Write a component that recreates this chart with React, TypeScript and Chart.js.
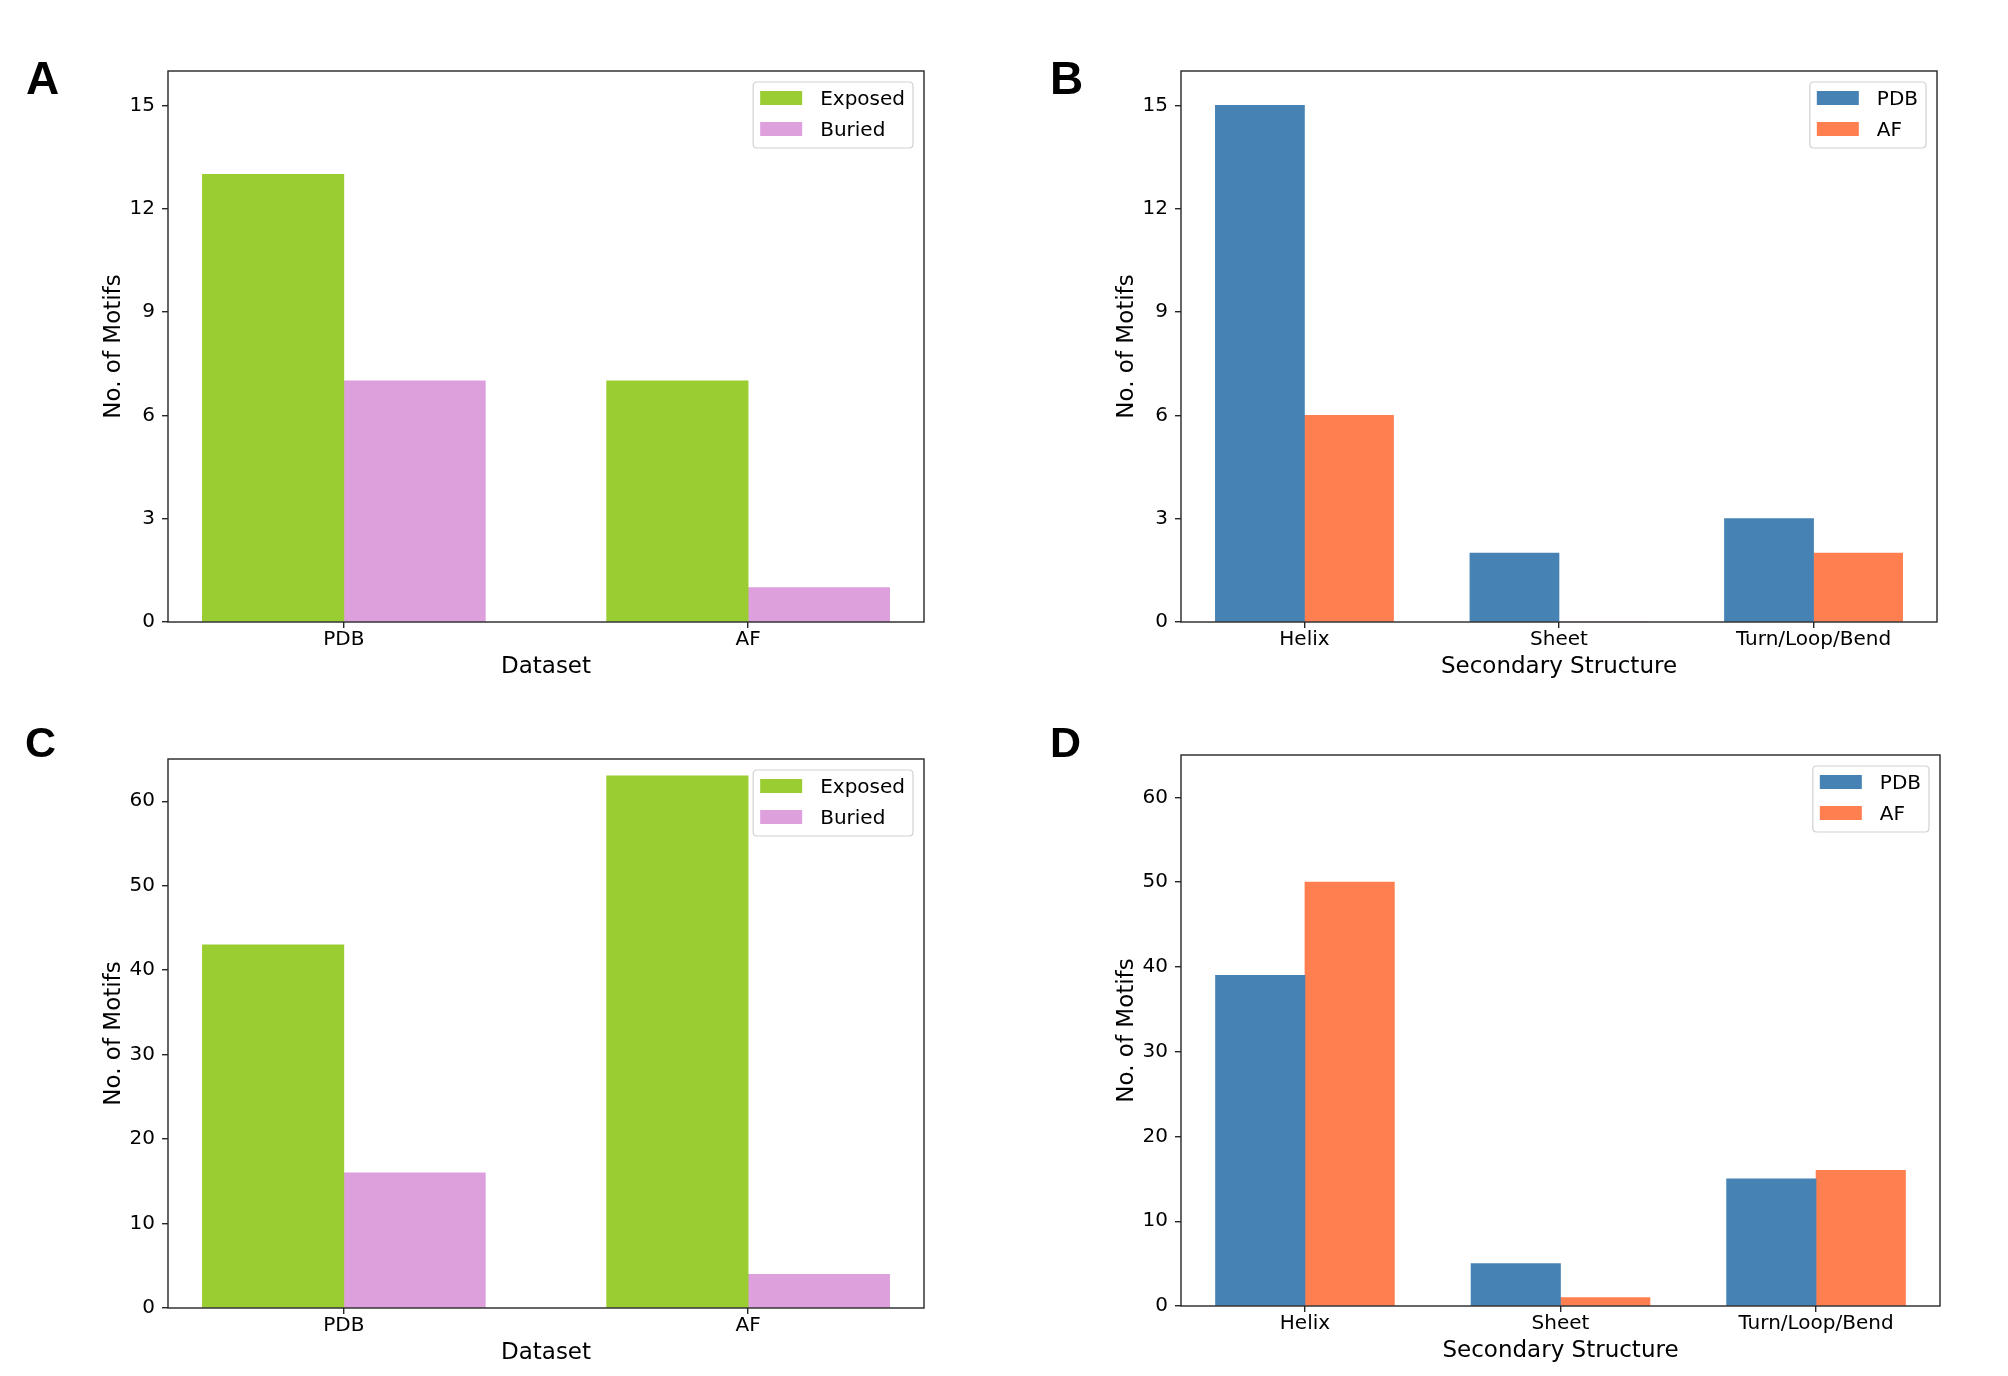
import React, { useEffect, useRef } from "react";
import { Chart, registerables } from "chart.js";

Chart.register(...registerables);

// ---------- data ----------
const DATASET_CATEGORIES = ["PDB", "AF"];
const STRUCTURE_CATEGORIES = ["Helix", "Sheet", "Turn/Loop/Bend"];

const A_EXPOSED = [13, 7];
const A_BURIED = [7, 1];

const B_PDB = [15, 2, 3];
const B_AF = [6, 0, 2];

const C_EXPOSED = [43, 63];
const C_BURIED = [16, 4];

const D_PDB = [39, 5, 15];
const D_AF = [50, 1, 16];

const Y_TICKS_SMALL = [0, 3, 6, 9, 12, 15];
const Y_TICKS_LARGE = [0, 10, 20, 30, 40, 50, 60];
const Y_MAX_SMALL = 16;
const Y_MAX_LARGE = 65;

const Y_TITLE = "No. of Motifs";
const X_TITLE_DATASET = "Dataset";
const X_TITLE_STRUCTURE = "Secondary Structure";

// ---------- styles ----------
const GREEN = "#9ACD32";
const PLUM = "#DDA0DD";
const STEEL = "#4682B4";
const CORAL = "#FF7F50";
const BAR_WIDTH = 0.35;
const FONT = "'DejaVu Sans', Verdana, sans-serif";
const SPINE = "#262626";

type Series = { label: string; values: number[]; color: string };
type Panel = {
  letter: string;
  letterX: number;
  letterY: number;
  letterSize: number;
  left: number;
  top: number;
  width: number;
  height: number;
  frame: { l: number; r: number; t: number; b: number };
  categories: string[];
  series: Series[];
  yMax: number;
  yTicks: number[];
  xTitle: string;
};

const PANELS: Panel[] = [
  {
    letter: "A", letterX: 26, letterY: 94, letterSize: 46,
    left: 0, top: 0, width: 1004, height: 688,
    frame: { l: 168, r: 924, t: 71, b: 622 },
    categories: DATASET_CATEGORIES,
    series: [
      { label: "Exposed", values: A_EXPOSED, color: GREEN },
      { label: "Buried", values: A_BURIED, color: PLUM },
    ],
    yMax: Y_MAX_SMALL, yTicks: Y_TICKS_SMALL, xTitle: X_TITLE_DATASET,
  },
  {
    letter: "B", letterX: 46, letterY: 94, letterSize: 46,
    left: 1004, top: 0, width: 1004, height: 688,
    frame: { l: 177, r: 933, t: 71, b: 622 },
    categories: STRUCTURE_CATEGORIES,
    series: [
      { label: "PDB", values: B_PDB, color: STEEL },
      { label: "AF", values: B_AF, color: CORAL },
    ],
    yMax: Y_MAX_SMALL, yTicks: Y_TICKS_SMALL, xTitle: X_TITLE_STRUCTURE,
  },
  {
    letter: "C", letterX: 25, letterY: 69, letterSize: 43,
    left: 0, top: 688, width: 1004, height: 688,
    frame: { l: 168, r: 924, t: 71, b: 620 },
    categories: DATASET_CATEGORIES,
    series: [
      { label: "Exposed", values: C_EXPOSED, color: GREEN },
      { label: "Buried", values: C_BURIED, color: PLUM },
    ],
    yMax: Y_MAX_LARGE, yTicks: Y_TICKS_LARGE, xTitle: X_TITLE_DATASET,
  },
  {
    letter: "D", letterX: 46, letterY: 69, letterSize: 43,
    left: 1004, top: 688, width: 1004, height: 688,
    frame: { l: 177, r: 936, t: 67, b: 618 },
    categories: STRUCTURE_CATEGORIES,
    series: [
      { label: "PDB", values: D_PDB, color: STEEL },
      { label: "AF", values: D_AF, color: CORAL },
    ],
    yMax: Y_MAX_LARGE, yTicks: Y_TICKS_LARGE, xTitle: X_TITLE_STRUCTURE,
  },
];

function roundRect(ctx: CanvasRenderingContext2D, x: number, y: number, w: number, h: number, r: number) {
  ctx.beginPath();
  ctx.moveTo(x + r, y);
  ctx.lineTo(x + w - r, y);
  ctx.quadraticCurveTo(x + w, y, x + w, y + r);
  ctx.lineTo(x + w, y + h - r);
  ctx.quadraticCurveTo(x + w, y + h, x + w - r, y + h);
  ctx.lineTo(x + r, y + h);
  ctx.quadraticCurveTo(x, y + h, x, y + h - r);
  ctx.lineTo(x, y + r);
  ctx.quadraticCurveTo(x, y, x + r, y);
  ctx.closePath();
}

function makeDecorPlugin(panel: Panel) {
  return {
    id: "decor" + panel.letter,
    afterDatasetsDraw(chart: any) {
      const ctx: CanvasRenderingContext2D = chart.ctx;
      const a = chart.chartArea;
      ctx.save();
      // frame (all four spines)
      ctx.strokeStyle = SPINE;
      ctx.lineWidth = 1.4;
      ctx.strokeRect(a.left, a.top, a.right - a.left, a.bottom - a.top);

      // legend in the upper right
      ctx.font = `20px ${FONT}`;
      const textW = Math.max(...panel.series.map((s) => ctx.measureText(s.label).width));
      const boxRight = a.right - 11;
      const boxTop = a.top + 11;
      const patchW = 42;
      const boxW = 7 + patchW + 18 + textW + 8;
      const boxH = 66;
      const boxLeft = boxRight - boxW;
      roundRect(ctx, boxLeft, boxTop, boxW, boxH, 4);
      ctx.fillStyle = "rgba(255,255,255,0.8)";
      ctx.fill();
      ctx.strokeStyle = "rgba(204,204,204,0.9)";
      ctx.lineWidth = 1.2;
      ctx.stroke();
      panel.series.forEach((s, k) => {
        const cy = boxTop + 16 + k * 31;
        ctx.fillStyle = s.color;
        ctx.fillRect(boxLeft + 7, cy - 7, patchW, 14);
        ctx.fillStyle = "#000";
        ctx.textBaseline = "alphabetic";
        ctx.textAlign = "left";
        ctx.fillText(s.label, boxLeft + 7 + patchW + 18, cy + 7);
      });

      // panel letter
      ctx.font = `bold ${panel.letterSize}px 'Liberation Sans', Arial, sans-serif`;
      ctx.fillStyle = "#000";
      ctx.textAlign = "left";
      ctx.textBaseline = "alphabetic";
      ctx.fillText(panel.letter, panel.letterX, panel.letterY);
      ctx.restore();
    },
  };
}

function PanelChart({ panel }: { panel: Panel }) {
  const ref = useRef<HTMLCanvasElement | null>(null);

  useEffect(() => {
    if (!ref.current) return;
    const { frame, width, height, categories, series } = panel;
    const n = categories.length;
    const span = n - 1 + 2 * BAR_WIDTH;
    const xMin = -BAR_WIDTH - 0.05 * span;
    const xMax = n - 1 + BAR_WIDTH + 0.05 * span;
    const xAxisH = height - frame.b;
    const titleLH = 23 * 1.2;

    const tickFont = { family: FONT, size: 20 };
    const titleFont = { family: FONT, size: 23 };
    const grid = {
      display: true,
      drawOnChartArea: false,
      drawTicks: true,
      offset: false,
      tickLength: 6,
      color: SPINE,
      lineWidth: 1.4,
    };

    const datasets = series.map((s, k) => ({
      label: s.label,
      data: s.values.map((v, i) => ({ x: i + (k - (series.length - 1) / 2) * BAR_WIDTH, y: v })),
      backgroundColor: s.color,
      borderWidth: 0,
      grouped: false,
      categoryPercentage: 1,
      barPercentage: 1,
    }));

    const chart = new Chart(ref.current, {
      type: "bar",
      data: { datasets },
      options: {
        responsive: false,
        animation: false,
        events: [],
        layout: { padding: { top: frame.t, right: width - frame.r, left: 0, bottom: 0 } },
        plugins: { legend: { display: false }, tooltip: { enabled: false } },
        scales: {
          x: {
            type: "linear",
            min: xMin,
            max: xMax,
            offset: false,
            afterBuildTicks: (s: any) => {
              s.ticks = categories.map((_, i) => ({ value: i }));
            },
            afterFit: (s: any) => {
              s.height = xAxisH;
            },
            ticks: {
              callback: (v: any) => categories[Math.round(Number(v))] ?? "",
              autoSkip: false,
              maxRotation: 0,
              minRotation: 0,
              padding: 0,
              color: "#000",
              font: tickFont,
            },
            grid,
            border: { display: false },
            title: {
              display: true,
              text: panel.xTitle,
              color: "#000",
              font: titleFont,
              padding: { top: xAxisH - titleLH / 2 - 45, bottom: xAxisH - titleLH / 2 - 45 },
            },
          },
          y: {
            type: "linear",
            min: 0,
            max: panel.yMax,
            afterBuildTicks: (s: any) => {
              s.ticks = panel.yTicks.map((v) => ({ value: v }));
            },
            afterFit: (s: any) => {
              s.width = frame.l;
            },
            ticks: { padding: 7, color: "#000", font: tickFont },
            grid,
            border: { display: false },
            title: {
              display: true,
              text: Y_TITLE,
              color: "#000",
              font: titleFont,
              padding: { top: frame.l - 54 - titleLH / 2, bottom: frame.l - 54 - titleLH / 2 },
            },
          },
        },
      } as any,
      plugins: [makeDecorPlugin(panel)],
    });
    return () => chart.destroy();
  }, [panel]);

  return (
    <canvas
      ref={ref}
      width={panel.width}
      height={panel.height}
      style={{ position: "absolute", left: panel.left, top: panel.top, width: panel.width, height: panel.height }}
    />
  );
}

export default function App() {
  useEffect(() => {
    document.body.style.margin = "0";
  }, []);
  return (
    <div style={{ position: "relative", width: 2008, height: 1376, background: "#fff", overflow: "hidden" }}>
      {PANELS.map((p) => (
        <PanelChart key={p.letter} panel={p} />
      ))}
    </div>
  );
}
